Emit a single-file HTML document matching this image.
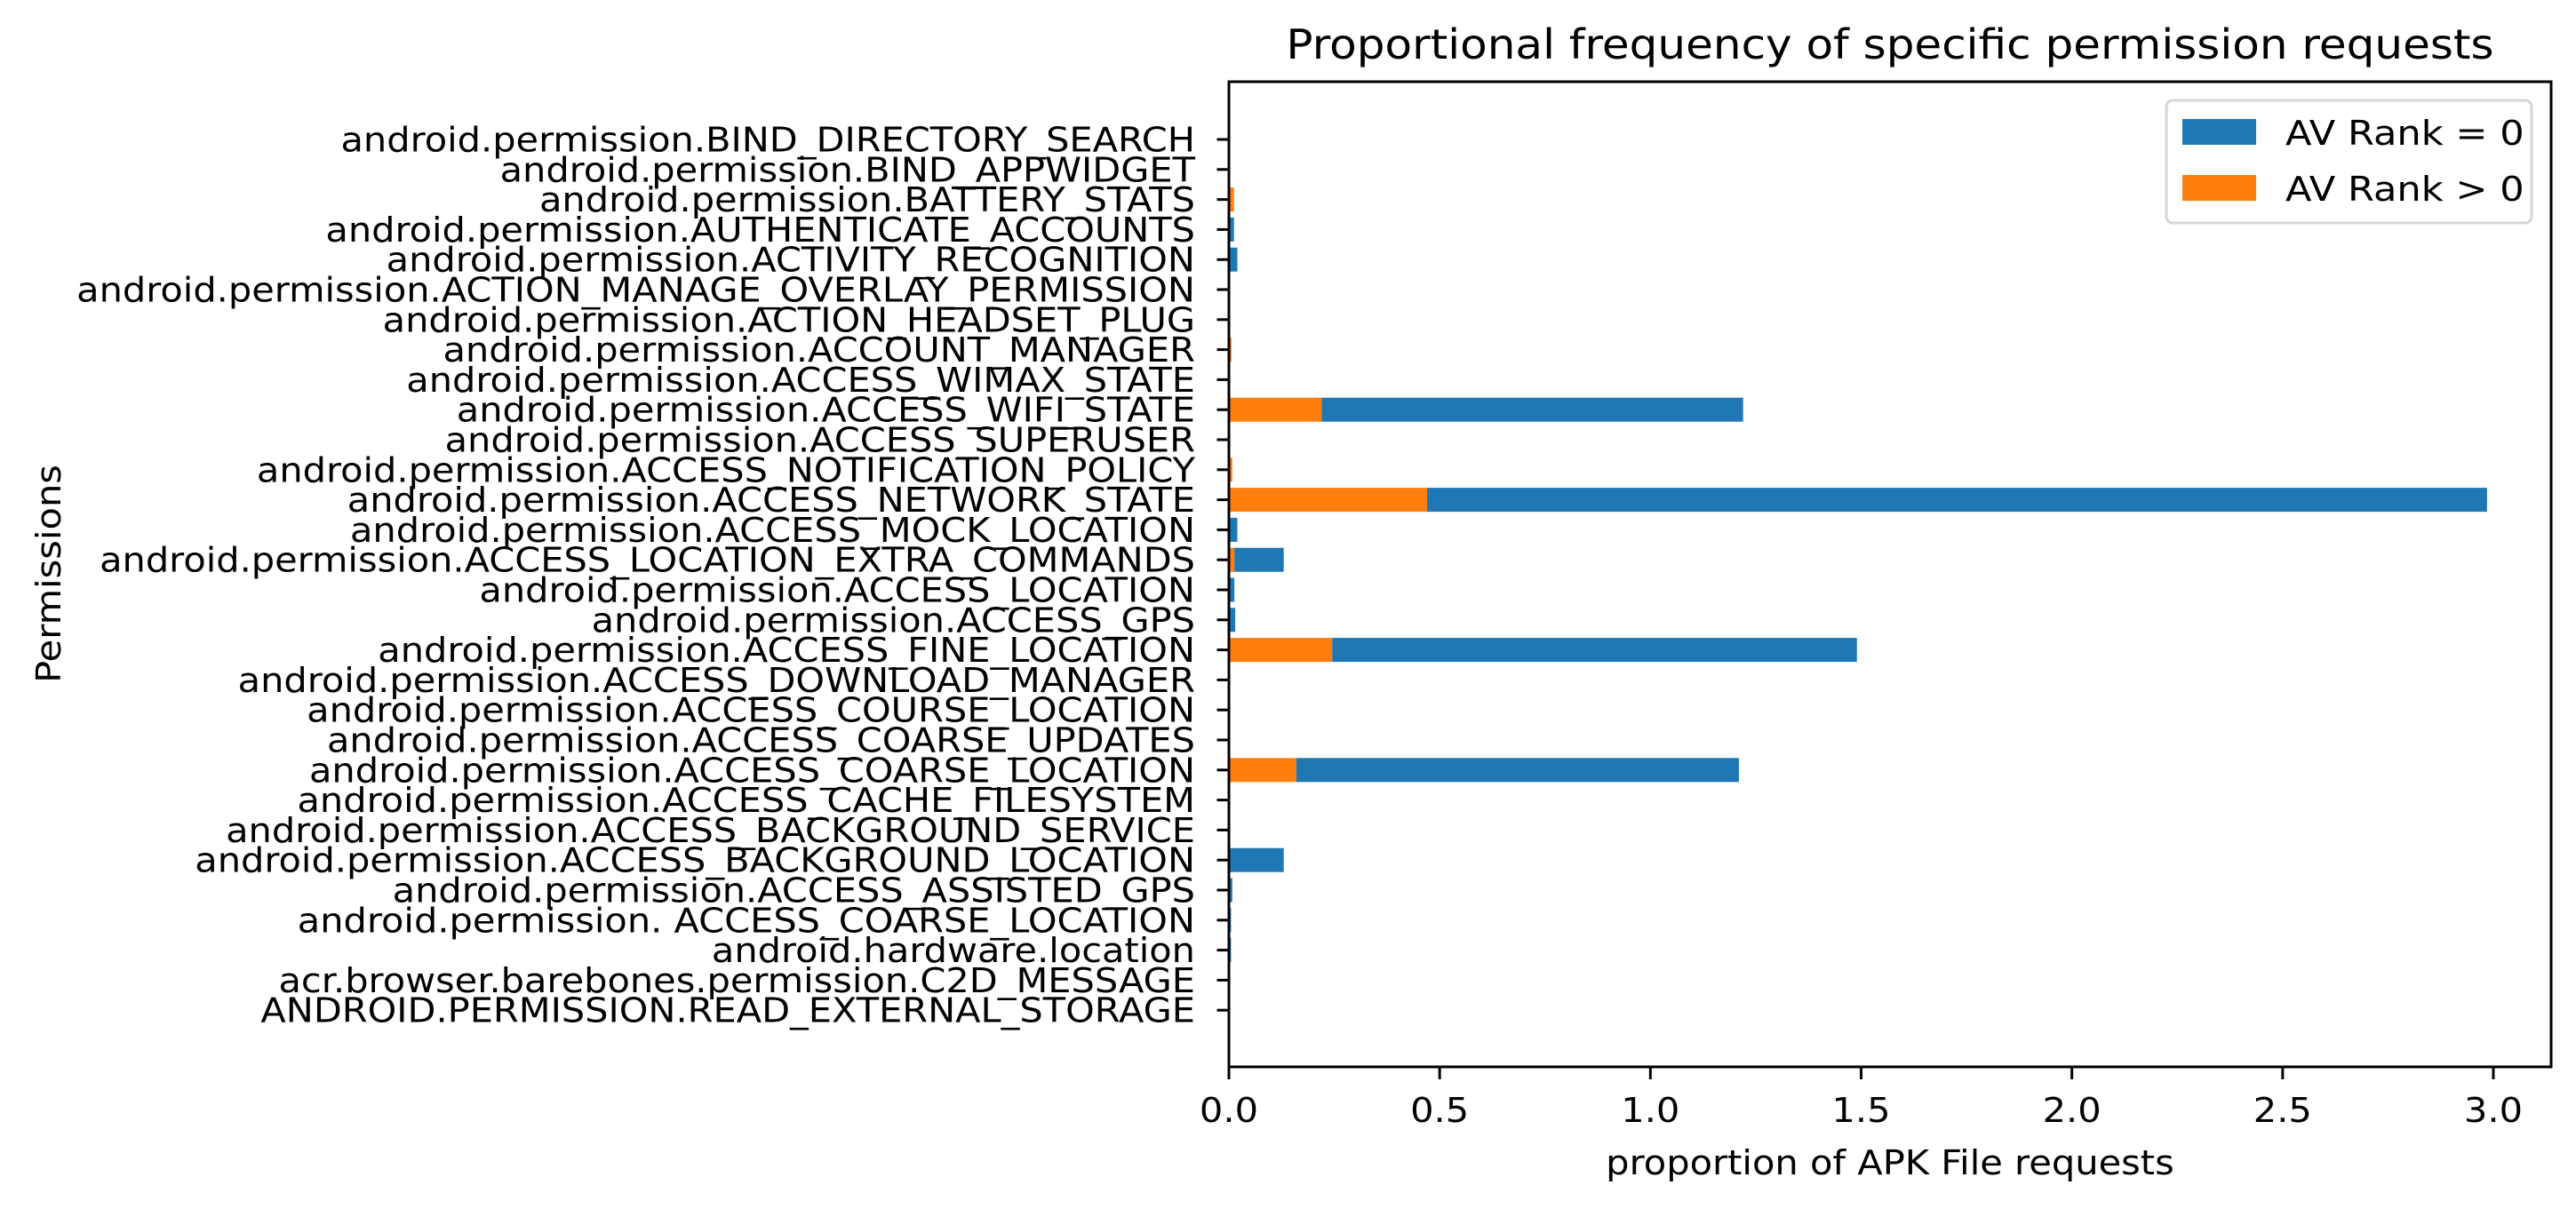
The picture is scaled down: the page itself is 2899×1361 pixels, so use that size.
<!DOCTYPE html>
<html><head><meta charset="utf-8"><style>
html,body{margin:0;padding:0;background:#fff;}
svg{display:block;font-family:"DejaVu Sans","Liberation Sans",sans-serif;}
</style></head>
<body>
<svg id="chart" width="2899" height="1361" viewBox="0 0 2899 1361" xmlns="http://www.w3.org/2000/svg">
<rect width="2899" height="1361" fill="#fff"/>
<text class="wide" data-k="1.087" x="2127" y="66" font-size="46" text-anchor="middle">Proportional frequency of specific permission requests</text>
<g id="bars"></g>
<g id="yticks"></g>
<g id="xticks"></g>
<rect x="1383" y="92" width="1488" height="1109" fill="none" stroke="#000" stroke-width="3"/>
<text class="wide" data-k="1.08" x="2127" y="1322" font-size="38.5" text-anchor="middle">proportion of APK File requests</text>
<text class="wide" data-k="1.08" transform="translate(68,646) rotate(-90)" font-size="38.5" text-anchor="middle">Permissions</text>
<g>
<rect x="2438" y="113" width="411" height="138" rx="7" fill="#fff" fill-opacity="0.8" stroke="#d6d6d6" stroke-width="3"/>
<rect x="2456" y="134" width="83" height="29" fill="#1f77b4"/>
<text class="wide" data-k="1.12" x="2572" y="163" font-size="38.5">AV Rank = 0</text>
<rect x="2456" y="197" width="83" height="29" fill="#ff7f0e"/>
<text class="wide" data-k="1.12" x="2572" y="226" font-size="38.5">AV Rank &gt; 0</text>
</g>
</svg>
<script>
const categories = [
"android.permission.BIND_DIRECTORY_SEARCH",
"android.permission.BIND_APPWIDGET",
"android.permission.BATTERY_STATS",
"android.permission.AUTHENTICATE_ACCOUNTS",
"android.permission.ACTIVITY_RECOGNITION",
"android.permission.ACTION_MANAGE_OVERLAY_PERMISSION",
"android.permission.ACTION_HEADSET_PLUG",
"android.permission.ACCOUNT_MANAGER",
"android.permission.ACCESS_WIMAX_STATE",
"android.permission.ACCESS_WIFI_STATE",
"android.permission.ACCESS_SUPERUSER",
"android.permission.ACCESS_NOTIFICATION_POLICY",
"android.permission.ACCESS_NETWORK_STATE",
"android.permission.ACCESS_MOCK_LOCATION",
"android.permission.ACCESS_LOCATION_EXTRA_COMMANDS",
"android.permission.ACCESS_LOCATION",
"android.permission.ACCESS_GPS",
"android.permission.ACCESS_FINE_LOCATION",
"android.permission.ACCESS_DOWNLOAD_MANAGER",
"android.permission.ACCESS_COURSE_LOCATION",
"android.permission.ACCESS_COARSE_UPDATES",
"android.permission.ACCESS_COARSE_LOCATION",
"android.permission.ACCESS_CACHE_FILESYSTEM",
"android.permission.ACCESS_BACKGROUND_SERVICE",
"android.permission.ACCESS_BACKGROUND_LOCATION",
"android.permission.ACCESS_ASSISTED_GPS",
"android.permission. ACCESS_COARSE_LOCATION",
"android.hardware.location",
"acr.browser.barebones.permission.C2D_MESSAGE",
"ANDROID.PERMISSION.READ_EXTERNAL_STORAGE"
];
const avPositive = [0,0,0.012,0,0,0,0,0.006,0,0.22,0,0.008,0.47,0,0.013,0,0,0.245,0,0,0,0.16,0,0,0,0,0,0,0,0];
const avZero = [0,0,0,0.012,0.02,0,0,0,0,1.0,0,0,2.515,0.02,0.117,0.013,0.015,1.245,0,0,0,1.05,0,0,0.13,0.008,0.005,0.005,0,0];
const xTicks = [0,0.5,1.0,1.5,2.0,2.5,3.0];
const xTickLabels = ["0.0","0.5","1.0","1.5","2.0","2.5","3.0"];

const NS = "http://www.w3.org/2000/svg";
const X0 = 1383, XS = (2806 - 1383) / 3;
const Y_TOP = 157, Y_STEP = 33.8, BAR_H = 27;
function xScale(v){ return X0 + v * XS; }
function yScale(i){ return Y_TOP + i * Y_STEP; }

const bars = document.getElementById('bars');
const yt = document.getElementById('yticks');
const xt = document.getElementById('xticks');

categories.forEach((c, i) => {
  const y = yScale(i);
  const o = avPositive[i], b = avZero[i];
  if (o > 0) {
    const r = document.createElementNS(NS, 'rect');
    r.setAttribute('x', xScale(0)); r.setAttribute('y', y - BAR_H/2);
    r.setAttribute('width', xScale(o) - xScale(0)); r.setAttribute('height', BAR_H);
    r.setAttribute('fill', '#ff7f0e');
    
    
    bars.appendChild(r);
  }
  if (b > 0) {
    const r = document.createElementNS(NS, 'rect');
    r.setAttribute('x', xScale(o)); r.setAttribute('y', y - BAR_H/2);
    r.setAttribute('width', xScale(o + b) - xScale(o)); r.setAttribute('height', BAR_H);
    r.setAttribute('fill', '#1f77b4');
    
    
    bars.appendChild(r);
  }
  const t = document.createElementNS(NS, 'line');
  t.setAttribute('x1', X0 - 13.5); t.setAttribute('x2', X0);
  t.setAttribute('y1', y); t.setAttribute('y2', y);
  t.setAttribute('stroke', '#000'); t.setAttribute('stroke-width', '3');
  
  
  yt.appendChild(t);
  const l = document.createElementNS(NS, 'text');
  l.setAttribute('x', X0 - 38); l.setAttribute('y', y + 13.5);
  l.setAttribute('font-size', '38.5'); l.setAttribute('text-anchor', 'end');
  l.setAttribute('xml:space', 'preserve');
  l.setAttribute('class', 'wide');
  l.setAttribute('data-k', '1.078');
  
  
  l.textContent = c;
  yt.appendChild(l);
});

xTicks.forEach((v, i) => {
  const x = xScale(v);
  const t = document.createElementNS(NS, 'line');
  t.setAttribute('x1', x); t.setAttribute('x2', x);
  t.setAttribute('y1', 1201); t.setAttribute('y2', 1215);
  t.setAttribute('stroke', '#000'); t.setAttribute('stroke-width', '3');
  
  
  xt.appendChild(t);
  const l = document.createElementNS(NS, 'text');
  l.setAttribute('x', x); l.setAttribute('y', 1263);
  l.setAttribute('font-size', '38.5'); l.setAttribute('text-anchor', 'middle');
  l.setAttribute('class', 'wide');
  l.setAttribute('data-k', '1.08');
  
  
  l.textContent = xTickLabels[i];
  xt.appendChild(l);
});

document.querySelectorAll('text.wide').forEach(el => {
  const k = parseFloat(el.getAttribute('data-k'));
  const w = el.getComputedTextLength();
  if (w > 0) {
    el.setAttribute('textLength', (w * k).toFixed(1));
    el.setAttribute('lengthAdjust', 'spacingAndGlyphs');
  }
});
</script>
</body></html>
